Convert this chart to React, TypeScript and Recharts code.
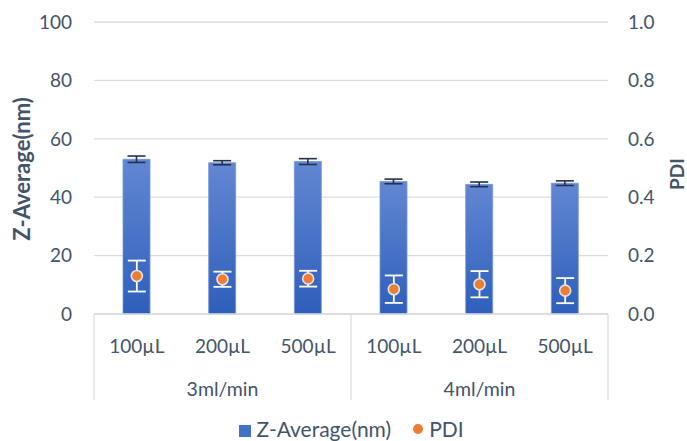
import React from 'react';
import {
  ComposedChart,
  Bar,
  Line,
  XAxis,
  YAxis,
  CartesianGrid,
  ErrorBar,
  Legend,
} from 'recharts';

const samples = ['100µL', '200µL', '500µL', '100µL', '200µL', '500µL'];
const groups = ['3ml/min', '3ml/min', '3ml/min', '4ml/min', '4ml/min', '4ml/min'];
const zAverage = [53.0, 51.8, 52.2, 45.4, 44.4, 44.8];
const zAverageErr = [1.1, 0.7, 1.0, 0.8, 0.8, 0.8];
const pdi = [0.13, 0.119, 0.121, 0.085, 0.102, 0.08];
const pdiErr = [0.053, 0.026, 0.027, 0.047, 0.045, 0.043];
const leftTicks = [0, 20, 40, 60, 80, 100];
const rightTicks = [0, 0.2, 0.4, 0.6, 0.8, 1.0];

const data = samples.map((s, i) => ({
  sample: s,
  group: groups[i],
  z: zAverage[i],
  zErr: zAverageErr[i],
  pdi: pdi[i],
  pdiErr: pdiErr[i],
}));

const W = 687;
const H = 441;
const LEFT_W = 94;
const RIGHT_W = 79;
const TOP = 22;
const XAXIS_H = 86;
const LEGEND_H = 41;
const PLOT_W = W - LEFT_W - RIGHT_W;
const BAND = PLOT_W / data.length;

const TEXT = '#44546a';
const GRID = '#d9dde3';
const FONT = 'Lato, "Open Sans", sans-serif';
const FS = 19;
const LEG_FS = 21;
const TITLE_FS = 22;

const XTick = (props: any) => {
  const { x, y, payload, index } = props;
  const n = data.length;
  const elems: React.ReactNode[] = [];
  elems.push(
    <text key="t" x={x} y={y + 31} textAnchor="middle" dominantBaseline="central" fill={TEXT} fontSize={FS} fontFamily={FONT}>
      {payload.value}
    </text>
  );
  const isGroupStart = index === 0 || groups[index] !== groups[index - 1];
  if (isGroupStart) {
    elems.push(<line key="l" x1={x - BAND / 2} x2={x - BAND / 2} y1={y} y2={y + XAXIS_H} stroke={GRID} strokeWidth={1.3} />);
    let cnt = 0;
    for (let j = index; j < n && groups[j] === groups[index]; j++) cnt++;
    elems.push(
      <text key="g" x={x - BAND / 2 + (cnt * BAND) / 2} y={y + 74} textAnchor="middle" dominantBaseline="central" fill={TEXT} fontSize={FS + 0.5} fontFamily={FONT}>
        {groups[index]}
      </text>
    );
  }
  if (index === n - 1) {
    elems.push(<line key="r" x1={x + BAND / 2} x2={x + BAND / 2} y1={y} y2={y + XAXIS_H} stroke={GRID} strokeWidth={1.3} />);
  }
  return <g>{elems}</g>;
};

const PdiDot = (props: any) => {
  const { cx, cy } = props;
  if (cx == null || cy == null) return null;
  return <circle cx={cx} cy={cy} r={5.5} fill="#ed7d31" stroke="#e4e4e4" strokeWidth={1.6} />;
};

const LegendContent = () => (
  <div
    style={{
      display: 'flex',
      justifyContent: 'center',
      alignItems: 'center',
      fontFamily: FONT,
      fontSize: LEG_FS,
      lineHeight: '24px',
      color: TEXT,
      height: LEGEND_H,
      paddingTop: 16,
      boxSizing: 'border-box',
      whiteSpace: 'nowrap',
      marginLeft: 16,
    }}
  >
    <span style={{ display: 'inline-block', width: 12, height: 12, background: '#4472c4', marginRight: 5, marginTop: 4 }} />
    <span style={{ marginRight: 22 }}>Z-Average(nm)</span>
    <span style={{ display: 'inline-block', width: 10, height: 10, borderRadius: '50%', background: '#ed7d31', marginRight: 6 }} />
    <span>PDI</span>
  </div>
);

export default function App() {
  return (
    <div style={{ position: 'absolute', left: 0, top: 0, width: W, height: H, background: '#fff', overflow: 'hidden' }}>
      <ComposedChart
        width={W}
        height={H}
        data={data}
        margin={{ top: TOP, right: 0, bottom: 0, left: 0 }}
        style={{ fontFamily: FONT }}
      >
        <defs>
          <linearGradient id="barGrad" x1="0" y1="0" x2="0" y2="1">
            <stop offset="0%" stopColor="#6287d2" />
            <stop offset="100%" stopColor="#2e5fbb" />
          </linearGradient>
        </defs>
        <CartesianGrid vertical={false} stroke={GRID} strokeWidth={1.3} yAxisId="left" />
        <XAxis
          dataKey="sample"
          xAxisId={0}
          height={XAXIS_H}
          axisLine={{ stroke: GRID, strokeWidth: 1.3 }}
          tickLine={false}
          tickSize={0}
          tickMargin={0}
          interval={0}
          tick={<XTick />}
        />
        <YAxis
          yAxisId="left"
          orientation="left"
          width={LEFT_W}
          domain={[0, 100]}
          ticks={leftTicks}
          axisLine={false}
          tickLine={false}
          tickSize={0}
          tickMargin={22}
          tick={{ fill: TEXT, fontSize: FS, fontFamily: FONT }}
          label={(p: any) => {
            const vb = p.viewBox;
            const cx = 21;
            const cy = vb.y + vb.height / 2 + 1;
            return (
              <text x={cx} y={cy} transform={`rotate(-90, ${cx}, ${cy})`} textAnchor="middle" dominantBaseline="central" fill={TEXT} fontSize={TITLE_FS} fontWeight="bold" fontFamily={FONT}>
                Z-Average(nm)
              </text>
            );
          }}
        />
        <YAxis
          yAxisId="right"
          orientation="right"
          width={RIGHT_W}
          domain={[0, 1]}
          ticks={rightTicks}
          axisLine={false}
          tickLine={false}
          tickSize={0}
          tickMargin={20}
          tickFormatter={(v: number) => v.toFixed(1)}
          tick={{ fill: TEXT, fontSize: FS, fontFamily: FONT, textAnchor: 'start' }}
          label={(p: any) => {
            const vb = p.viewBox;
            const cx = 676;
            const cy = vb.y + vb.height / 2 + 6;
            return (
              <text x={cx} y={cy} transform={`rotate(-90, ${cx}, ${cy})`} textAnchor="middle" dominantBaseline="central" fill={TEXT} fontSize={FS} fontWeight="bold" fontFamily={FONT}>
                PDI
              </text>
            );
          }}
        />
        <Legend verticalAlign="bottom" height={LEGEND_H} content={<LegendContent />} />
        <Bar
          yAxisId="left"
          dataKey="z"
          name="Z-Average(nm)"
          barSize={27}
          fill="url(#barGrad)"
          stroke="#7396d8"
          strokeWidth={0.8}
          isAnimationActive={false}
        >
          <ErrorBar dataKey="zErr" width={9} stroke="#26324a" strokeWidth={1.6} direction="y" />
        </Bar>
        <Line
          yAxisId="right"
          dataKey="pdi"
          name="PDI"
          stroke="none"
          strokeWidth={0}
          dot={<PdiDot />}
          activeDot={false}
          legendType="circle"
          isAnimationActive={false}
        >
          <ErrorBar dataKey="pdiErr" width={9} stroke="#ffffff" strokeWidth={1.8} direction="y" />
        </Line>
      </ComposedChart>
    </div>
  );
}
